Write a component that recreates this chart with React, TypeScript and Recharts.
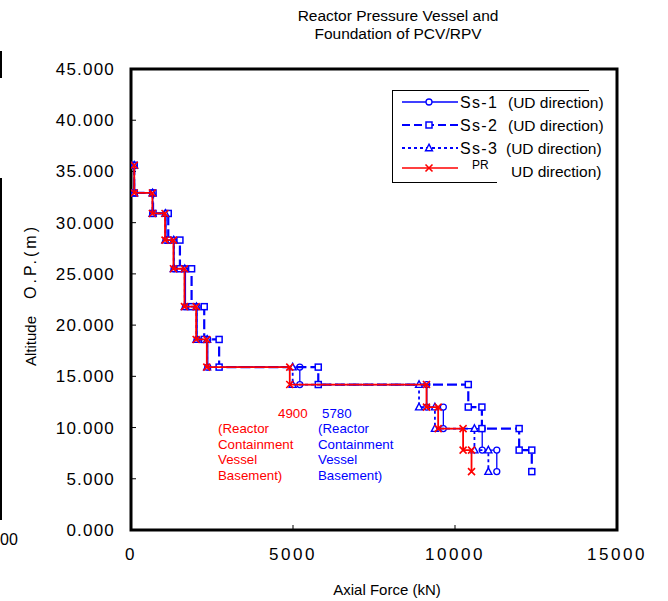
import React from "react";
import { ScatterChart, Scatter, XAxis, YAxis, ReferenceArea, Legend } from "recharts";

// altitudes (m) where the axial force changes, top to bottom
const levels = [35.6, 32.9, 30.9, 28.3, 25.5, 21.8, 18.6, 15.9, 14.2, 12.0, 9.9, 7.8, 5.7];

// axial force (kN) in each segment between two levels
const ss1Force = [100, 670, 1080, 1330, 1680, 2040, 2370, 5210, 9130, 9640, 10840, 11290];
const ss2Force = [100, 680, 1150, 1510, 1870, 2260, 2720, 5780, 10410, 10830, 11980, 12370];
const ss3Force = [100, 665, 1060, 1320, 1660, 2020, 2350, 4990, 8890, 9380, 10600, 11030];
const prForce = [100, 660, 1050, 1310, 1650, 2010, 2340, 4900, 9120, 9480, 10250, 10510];

const xTicks = [0, 5000, 10000, 15000];
const yTicks = [0, 5, 10, 15, 20, 25, 30, 35, 40, 45];

const BLUE = "#0000ff";
const RED = "#ff0000";
const FONT = "'Liberation Sans', Arial, sans-serif";

function toSteps(forces: number[]) {
  const pts: { x: number; y: number }[] = [];
  forces.forEach((f, i) => {
    pts.push({ x: f, y: levels[i] });
    pts.push({ x: f, y: levels[i + 1] });
  });
  return pts;
}

const CircleMark = ({ cx, cy }: any) => (
  <circle cx={cx} cy={cy} r={3} fill="#fff" stroke={BLUE} strokeWidth={1.3} />
);
const SquareMark = ({ cx, cy }: any) => (
  <rect x={cx - 3} y={cy - 3} width={6} height={6} fill="#fff" stroke={BLUE} strokeWidth={1.5} />
);
const TriangleMark = ({ cx, cy }: any) => (
  <path d={`M${cx},${cy - 3.8}L${cx + 3.5},${cy + 2.8}L${cx - 3.5},${cy + 2.8}Z`} fill="#fff" stroke={BLUE} strokeWidth={1.4} />
);
const CrossMark = ({ cx, cy }: any) => (
  <path d={`M${cx - 3.5},${cy - 3.5}L${cx + 3.5},${cy + 3.5}M${cx - 3.5},${cy + 3.5}L${cx + 3.5},${cy - 3.5}`} stroke={RED} strokeWidth={1.6} />
);

const YTick = ({ x, y, payload }: any) => (
  <text x={x} y={y} dy={6} textAnchor="end" fontFamily={FONT} fontSize={17} letterSpacing={1.2} fill="#000">
    {Number(payload.value).toFixed(3)}
  </text>
);

const XTick = ({ x, y, payload }: any) => (
  <text x={x} y={y} dy={12} textAnchor="middle" fontFamily={FONT} fontSize={17} letterSpacing={2.5} fill="#000">
    {payload.value}
  </text>
);

const legendRows = [
  { name: "Ss-1", dash: undefined, width: 1.3, color: BLUE, Mark: CircleMark },
  { name: "Ss-2", dash: "8 4", width: 2.2, color: BLUE, Mark: SquareMark },
  { name: "Ss-3", dash: "3 3", width: 1.8, color: BLUE, Mark: TriangleMark },
  { name: "PR", dash: undefined, width: 1.3, color: RED, Mark: CrossMark },
];
const legendY = [12, 35, 58, 78];

const LegendBox = () => (
  <svg width={230} height={96} style={{ overflow: "visible" }}>
    <line x1={0.5} y1={0} x2={0.5} y2={92} stroke="#000" strokeWidth={1} />
    <line x1={0} y1={0.5} x2={197} y2={0.5} stroke="#000" strokeWidth={1} />
    <line x1={0} y1={92.5} x2={105} y2={92.5} stroke="#000" strokeWidth={1} />
    {legendRows.map((r, i) => {
      const y = legendY[i];
      const Mark = r.Mark;
      return (
        <g key={r.name}>
          <line x1={10} y1={y} x2={66} y2={y} stroke={r.color} strokeWidth={r.width} strokeDasharray={r.dash} />
          <Mark cx={37} cy={y} />
          {r.name === "PR" ? (
            <>
              <text x={80} y={y + 1} fontFamily={FONT} fontSize={12} fill="#000">PR</text>
              <text x={119} y={y + 9} fontFamily={FONT} fontSize={15.5} fill="#000">UD direction)</text>
            </>
          ) : (
            <>
              <text x={68} y={y + 6} fontFamily={FONT} fontSize={16} letterSpacing={1.3} fill="#000">{r.name}</text>
              <text x={i === 2 ? 114 : 116} y={y + 6} fontFamily={FONT} fontSize={15.5} fill="#000">(UD direction)</text>
            </>
          )}
        </g>
      );
    })}
  </svg>
);

const noteStyle: React.CSSProperties = {
  position: "absolute",
  fontFamily: FONT,
  fontSize: 13.3,
  lineHeight: "15.7px",
  whiteSpace: "nowrap",
};

export default function App() {
  return (
    <div style={{ position: "absolute", left: 0, top: 0, width: 668, height: 601, background: "#fff" }}>
      <div style={{ position: "absolute", left: 0, top: 7, width: 796, textAlign: "center", fontFamily: FONT, fontSize: 15.5, lineHeight: "18px" }}>
        Reactor Pressure Vessel and
        <br />
        Foundation of PCV/RPV
      </div>

      {/* edge of the neighbouring chart */}
      <div style={{ position: "absolute", left: 0, top: 51, width: 1.5, height: 27, background: "#000" }} />
      <div style={{ position: "absolute", left: 0, top: 178, width: 1.5, height: 342, background: "#000" }} />
      <div style={{ position: "absolute", left: 0, top: 531, fontFamily: FONT, fontSize: 16 }}>00</div>

      <ScatterChart width={668} height={601} margin={{ top: 69, right: 51, bottom: 31, left: 21 }}>
        <XAxis
          type="number"
          dataKey="x"
          domain={[0, 15000]}
          ticks={xTicks}
          height={40}
          axisLine={false}
          tickSize={-5}
          tickMargin={23}
          tickLine={{ stroke: "#000" }}
          tick={<XTick />}
          allowDataOverflow
          label={{
            content: () => (
              <text x={387} y={595} textAnchor="middle" fontFamily={FONT} fontSize={15} fill="#000">
                Axial Force (kN)
              </text>
            ),
          }}
        />
        <YAxis
          type="number"
          dataKey="y"
          domain={[0, 45]}
          ticks={yTicks}
          width={110}
          axisLine={false}
          tickSize={-5}
          tickMargin={21}
          tickLine={{ stroke: "#000" }}
          tick={<YTick />}
          allowDataOverflow
          label={{
            content: () => (
              <text transform="translate(36,366) rotate(-90)" fontFamily={FONT} fill="#000">
                <tspan fontSize={15}>Altitude</tspan>
                <tspan dx={17} fontSize={16} letterSpacing={3}>O.P.(m)</tspan>
              </text>
            ),
          }}
        />
        <ReferenceArea x1={0} x2={15000} y1={0} y2={45} fill="none" stroke="#000" strokeWidth={3} ifOverflow="visible" />
        <Legend
          layout="vertical"
          align="center"
          verticalAlign="middle"
          wrapperStyle={{ left: 392, top: 90, width: 230, height: 96 }}
          content={() => <LegendBox />}
        />
        <Scatter
          name="Ss-1 (UD direction)"
          data={toSteps(ss1Force)}
          line={{ stroke: BLUE, strokeWidth: 1.3 }}
          lineType="joint"
          shape={<CircleMark />}
          isAnimationActive={false}
        />
        <Scatter
          name="Ss-2 (UD direction)"
          data={toSteps(ss2Force)}
          line={{ stroke: BLUE, strokeWidth: 2.2, strokeDasharray: "10 4" }}
          lineType="joint"
          shape={<SquareMark />}
          isAnimationActive={false}
        />
        <Scatter
          name="Ss-3 (UD direction)"
          data={toSteps(ss3Force)}
          line={{ stroke: BLUE, strokeWidth: 1.8, strokeDasharray: "3 3" }}
          lineType="joint"
          shape={<TriangleMark />}
          isAnimationActive={false}
        />
        <Scatter
          name="PR UD direction)"
          data={toSteps(prForce)}
          line={{ stroke: RED, strokeWidth: 1.8 }}
          lineType="joint"
          shape={<CrossMark />}
          isAnimationActive={false}
        />
      </ScatterChart>

      <div style={{ ...noteStyle, color: RED, left: 278, top: 406 }}>4900</div>
      <div style={{ ...noteStyle, color: RED, left: 218, top: 421 }}>
        (Reactor
        <br />
        Containment
        <br />
        Vessel
        <br />
        Basement)
      </div>
      <div style={{ ...noteStyle, color: BLUE, left: 322, top: 406 }}>5780</div>
      <div style={{ ...noteStyle, color: BLUE, left: 318, top: 421 }}>
        (Reactor
        <br />
        Containment
        <br />
        Vessel
        <br />
        Basement)
      </div>
    </div>
  );
}
